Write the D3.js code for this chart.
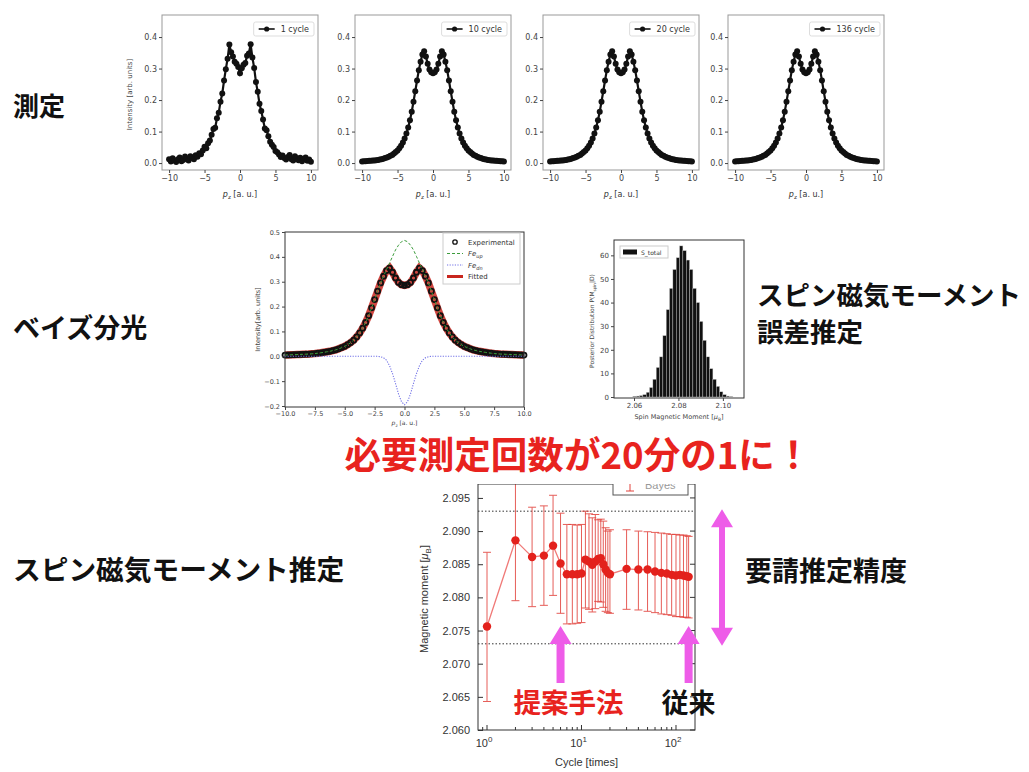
<!DOCTYPE html>
<html>
<head>
<meta charset="utf-8">
<script src="https://cdn.jsdelivr.net/npm/d3@7"></script>
<style>
body{margin:0;background:#fff;}
svg{display:block;}
</style>
</head>
<body>
<svg id="fig" width="1029" height="772"></svg>
<script>
// ---- values ----
const profileLabels = ["1 cycle", "10 cycle", "20 cycle", "136 cycle"];
const pzGrid = d3.range(-10, 10.001, 0.25);   // p_z sample grid [a.u.]

const intensity1Cycle = [
  0.012,0.005,0.015,0.008,0.003,0.012,0.018,0.006,0.010,0.021,
  0.014,0.008,0.022,0.017,0.012,0.025,0.020,0.031,0.028,0.040,
  0.052,0.047,0.063,0.072,0.090,0.108,0.112,0.142,0.160,0.195,
  0.221,0.262,0.298,0.331,0.376,0.352,0.338,0.322,0.315,0.305,
  0.285,
  0.301,0.312,0.318,0.341,0.348,0.377,0.335,0.302,0.257,0.226,
  0.188,0.165,0.138,0.110,0.104,0.085,0.068,0.058,0.051,0.038,
  0.034,0.027,0.019,0.024,0.016,0.011,0.019,0.026,0.012,0.008,
  0.022,0.015,0.009,0.017,0.006,0.013,0.018,0.007,0.011,0.004
];
const intensityAveraged = [
  0.005,0.0055,0.006,0.0065,0.007,0.0075,0.008,0.0085,0.009,0.010,
  0.011,0.0125,0.014,0.016,0.018,0.020,0.023,0.026,0.030,0.035,
  0.040,0.047,0.055,0.065,0.078,0.094,0.113,0.136,0.163,0.195,
  0.228,0.262,0.295,0.322,0.345,0.355,0.338,0.315,0.297,0.288,
  0.285,
  0.288,0.297,0.315,0.338,0.355,0.345,0.322,0.295,0.262,0.228,
  0.195,0.163,0.136,0.113,0.094,0.078,0.065,0.055,0.047,0.040,
  0.035,0.030,0.026,0.023,0.020,0.018,0.016,0.014,0.0125,0.011,
  0.010,0.009,0.0085,0.008,0.0075,0.007,0.0065,0.006,0.0055,0.005
];
const feUp = [
  0.005,0.0055,0.006,0.0065,0.007,0.0075,0.008,0.0085,0.009,0.010,
  0.011,0.0125,0.014,0.016,0.018,0.020,0.023,0.026,0.030,0.035,
  0.040,0.047,0.055,0.065,0.078,0.094,0.113,0.136,0.163,0.195,
  0.228,0.262,0.295,0.322,0.350,0.375,0.402,0.428,0.447,0.461,
  0.466,
  0.461,0.447,0.428,0.402,0.375,0.350,0.322,0.295,0.262,0.228,
  0.195,0.163,0.136,0.113,0.094,0.078,0.065,0.055,0.047,0.040,
  0.035,0.030,0.026,0.023,0.020,0.018,0.016,0.014,0.0125,0.011,
  0.010,0.009,0.0085,0.008,0.0075,0.007,0.0065,0.006,0.0055,0.005
];
const feDn = [
  0,0,0,0,0,0,0,0,0,0,
  0,0,0,0,0,0,0,0,0,0,
  0,0,0,0,0,0,0,0,0,0,
  0,0,
  -0.002,-0.006,-0.016,-0.038,-0.070,-0.110,-0.152,-0.183,
  -0.195,
  -0.183,-0.152,-0.110,-0.070,-0.038,-0.016,-0.006,-0.002,
  0,0,
  0,0,0,0,0,0,0,0,0,0,
  0,0,0,0,0,0,0,0,0,0,
  0,0,0,0,0,0,0,0,0,0
];

const histStart = 2.0595;
const histWidth = 0.0015;
const histCounts = [0.3,0.4,0.6,1.0,2.0,4.0,7.5,12.5,17,26,37,46,54,59,64,62,58,54,46,40,32,24,17,12,7.5,4.5,2.2,1.0,0.4,0.2];

const cycles = [1,2,3,4,5,6,7,8,9,10,11,12,13,14,15,16,17,18,19,20,30,40,50,60,70,80,90,100,110,120,130,136];
const moment = [2.0756,2.0886,2.0861,2.0863,2.0878,2.0851,2.0835,2.0835,2.0835,2.0836,2.0857,2.0854,2.0849,2.0854,2.0858,2.0859,2.0850,2.0842,2.0837,2.0835,2.0843,2.0842,2.0842,2.0839,2.0837,2.0836,2.0834,2.0833,2.0834,2.0833,2.0832,2.0831];
const momentLow = [2.0643,2.0795,2.0786,2.0788,2.0803,2.0776,2.0760,2.0760,2.0761,2.0762,2.0784,2.0782,2.0778,2.0783,2.0794,2.0793,2.0785,2.0779,2.0777,2.0776,2.0782,2.0781,2.0779,2.0777,2.0775,2.0774,2.0773,2.0771,2.0771,2.0770,2.0770,2.0769];
const momentHigh = [2.0868,2.0977,2.0936,2.0938,2.0954,2.0927,2.0910,2.0910,2.0909,2.0910,2.0930,2.0926,2.0920,2.0925,2.0917,2.0918,2.0915,2.0905,2.0900,2.0902,2.0902,2.0900,2.0899,2.0898,2.0897,2.0896,2.0895,2.0895,2.0894,2.0894,2.0893,2.0892];
const requiredBand = [2.073, 2.093];
const proposedCycle = 6;
const conventionalCycle = 136;

class BayesFigure{
    constructor(){
        this.svg = d3.select("svg#fig");
        this.mplFont = "'DejaVu Sans', sans-serif";
        this.matFont = "'Liberation Sans', Arial, sans-serif";
        this.jpFont = "'Noto Sans CJK JP', sans-serif";
        this.red = "#e8231e";
        this.magenta = "#ee5ce8";
    }

    init = () => {
        const lefts = [162, 355, 543, 728];
        profileLabels.forEach((label, i) => {
            let values = i == 0 ? intensity1Cycle : intensityAveraged;
            this.drawProfilePanel({left: lefts[i], top: 15, width: 156, height: 155}, values, label, i == 0);
        });
        this.drawBayesPanel();
        this.drawHistogram();
        this.drawMomentChart();
        this.drawTexts();
    }

    styleAxis = (g, size, color, font) => {
        g.attr("font-size", size).attr("font-family", font || this.mplFont);
        g.select(".domain").remove();
        g.selectAll(".tick line").attr("stroke", color);
        g.selectAll(".tick text").attr("fill", color);
    }

    // "p_z [a. u.]" style label
    pzLabel = (g, cx, cy, size) => {
        let t = g.append("text").attr("x", cx).attr("y", cy).attr("text-anchor", "middle")
            .attr("font-family", this.mplFont).attr("font-size", size).attr("fill", "#333");
        t.append("tspan").attr("font-style", "italic").text("p");
        t.append("tspan").attr("font-size", size * 0.7).attr("dy", size * 0.25).text("z");
        t.append("tspan").attr("dy", -size * 0.25).text(" [a. u.]");
    }

    drawProfilePanel = (box, values, label, withYLabel) => {
        const x = d3.scaleLinear().domain([-11, 11]).range([box.left, box.left + box.width]);
        const y = d3.scaleLinear().domain([-0.022, 0.47]).range([box.top + box.height, box.top]);
        const g = this.svg.append("g");
        const pts = pzGrid.map((p, i) => [p, values[i]]);

        g.append("path").datum(pts)
            .attr("d", d3.line().x(d => x(d[0])).y(d => y(d[1])))
            .attr("fill", "none").attr("stroke", "#111").attr("stroke-width", 2.2);
        g.selectAll("circle.pt").data(pts).join("circle")
            .attr("class", "pt")
            .attr("cx", d => x(d[0])).attr("cy", d => y(d[1])).attr("r", 3)
            .attr("fill", "#111");

        g.append("rect").attr("x", box.left).attr("y", box.top).attr("width", box.width).attr("height", box.height)
            .attr("fill", "none").attr("stroke", "#999").attr("stroke-width", 1);

        let ax = g.append("g").attr("transform", `translate(0,${box.top + box.height})`)
            .call(d3.axisBottom(x).tickValues([-10, -5, 0, 5, 10]).tickSize(3).tickPadding(2).tickFormat(d => d < 0 ? `\u2212${-d}` : d));
        this.styleAxis(ax, 8, "#444");
        let ay = g.append("g").attr("transform", `translate(${box.left},0)`)
            .call(d3.axisLeft(y).tickValues([0, 0.1, 0.2, 0.3, 0.4]).tickSize(3).tickPadding(2).tickFormat(d3.format(".1f")));
        this.styleAxis(ay, 8, "#444");

        this.pzLabel(g, box.left + box.width / 2, box.top + box.height + 27, 8);
        if(withYLabel){
            g.append("text").attr("transform", `translate(${box.left - 30},${box.top + box.height / 2 + 2}) rotate(-90)`)
                .attr("text-anchor", "middle").attr("font-family", this.mplFont).attr("font-size", 7).attr("fill", "#444")
                .text("Intensity [arb. units]");
        }

        // legend
        let lg = g.append("g");
        let txt = lg.append("text").attr("font-family", this.mplFont).attr("font-size", 8).attr("fill", "#333").text(label);
        let tw = txt.node().getComputedTextLength();
        let right = box.left + box.width - 4;
        let w = tw + 32, lx = right - w, ly = box.top + 7;
        lg.insert("rect", "text").attr("x", lx).attr("y", ly).attr("width", w).attr("height", 14)
            .attr("fill", "#fff").attr("stroke", "#ddd").attr("rx", 2);
        lg.append("line").attr("x1", lx + 5).attr("x2", lx + 21).attr("y1", ly + 7).attr("y2", ly + 7)
            .attr("stroke", "#111").attr("stroke-width", 1.6);
        lg.append("circle").attr("cx", lx + 13).attr("cy", ly + 7).attr("r", 2.6).attr("fill", "#111");
        txt.attr("x", lx + 27).attr("y", ly + 10);
    }

    drawBayesPanel = () => {
        const box = {left: 285, top: 232, width: 239, height: 175};
        const x = d3.scaleLinear().domain([-10, 10]).range([box.left, box.left + box.width]);
        const y = d3.scaleLinear().domain([-0.2, 0.5]).range([box.top + box.height - 1, box.top]);
        const g = this.svg.append("g");
        const line = d3.line().x(d => x(d[0])).y(d => y(d[1]));
        const exp = pzGrid.map((p, i) => [p, intensityAveraged[i]]);
        const up = pzGrid.map((p, i) => [p, feUp[i]]);
        const dn = pzGrid.map((p, i) => [p, feDn[i]]);

        g.append("path").datum(exp).attr("d", line).attr("fill", "none")
            .attr("stroke", "#c8261e").attr("stroke-width", 7.5).attr("opacity", 0.85);
        g.selectAll("circle.exp").data(exp).join("circle").attr("class", "exp")
            .attr("cx", d => x(d[0])).attr("cy", d => y(d[1])).attr("r", 2.5)
            .attr("fill", "none").attr("stroke", "#111").attr("stroke-width", 1.8);
        g.append("path").datum(up).attr("d", line).attr("fill", "none")
            .attr("stroke", "#3c9c3c").attr("stroke-width", 1).attr("stroke-dasharray", "3,2");
        g.append("path").datum(dn).attr("d", line).attr("fill", "none")
            .attr("stroke", "#7070e6").attr("stroke-width", 1.1).attr("stroke-dasharray", "1.2,1.4");

        g.append("rect").attr("x", box.left).attr("y", box.top).attr("width", box.width).attr("height", box.height)
            .attr("fill", "none").attr("stroke", "#333").attr("stroke-width", 1);
        let ax = g.append("g").attr("transform", `translate(0,${box.top + box.height})`)
            .call(d3.axisBottom(x).tickValues(d3.range(-10, 10.01, 2.5)).tickSize(3).tickPadding(1)
                .tickFormat(d => d < 0 ? `\u2212${d3.format(".1f")(-d)}` : d3.format(".1f")(d)));
        this.styleAxis(ax, 6.5, "#444");
        let ay = g.append("g").attr("transform", `translate(${box.left},0)`)
            .call(d3.axisLeft(y).tickValues(d3.range(-0.2, 0.51, 0.1)).tickSize(3).tickPadding(2)
                .tickFormat(d => d < -0.001 ? `\u2212${d3.format(".1f")(-d)}` : d3.format(".1f")(Math.abs(d))));
        this.styleAxis(ay, 6.5, "#444");

        this.pzLabel(g, box.left + box.width / 2, box.top + box.height + 18, 6);
        g.append("text").attr("transform", `translate(${box.left - 25},${box.top + box.height / 2}) rotate(-90)`)
            .attr("text-anchor", "middle").attr("font-family", this.mplFont).attr("font-size", 6.5).attr("fill", "#444")
            .text("Intensity[arb. units]");

        // legend
        const lx = 443, ly = 233;
        let lg = g.append("g").attr("font-family", this.mplFont).attr("font-size", 7).attr("fill", "#333");
        lg.append("rect").attr("x", lx).attr("y", ly).attr("width", 77).attr("height", 51)
            .attr("fill", "#fff").attr("stroke", "#ccc");
        const rows = [
            {key: "exp", label: "Experimental"},
            {key: "up", label: "Fe", sub: "up"},
            {key: "dn", label: "Fe", sub: "dn"},
            {key: "fit", label: "Fitted"}
        ];
        rows.forEach((r, i) => {
            let cy = ly + 9 + i * 11.5;
            if(r.key == "exp"){
                lg.append("circle").attr("cx", lx + 12).attr("cy", cy).attr("r", 2.2)
                    .attr("fill", "none").attr("stroke", "#111").attr("stroke-width", 1.3);
            } else if(r.key == "up"){
                lg.append("line").attr("x1", lx + 4).attr("x2", lx + 20).attr("y1", cy).attr("y2", cy)
                    .attr("stroke", "#3c9c3c").attr("stroke-dasharray", "3,2");
            } else if(r.key == "dn"){
                lg.append("line").attr("x1", lx + 4).attr("x2", lx + 20).attr("y1", cy).attr("y2", cy)
                    .attr("stroke", "#7070e6").attr("stroke-width", 1.1).attr("stroke-dasharray", "1.2,1.4");
            } else {
                lg.append("line").attr("x1", lx + 4).attr("x2", lx + 20).attr("y1", cy).attr("y2", cy)
                    .attr("stroke", "#c8261e").attr("stroke-width", 3);
            }
            let t = lg.append("text").attr("x", lx + 25).attr("y", cy + 2.5);
            if(r.sub){
                t.append("tspan").attr("font-style", "italic").text(r.label);
                t.append("tspan").attr("font-size", 5).attr("dy", 2).attr("font-style", "italic").text(r.sub);
            } else t.text(r.label);
        });
    }

    drawHistogram = () => {
        const box = {left: 614, top: 240, width: 130, height: 158};
        const x = d3.scaleLinear().domain([2.051, 2.1095]).range([box.left, box.left + box.width]);
        const y = d3.scaleLinear().domain([0, 66.5]).range([box.top + box.height - 1, box.top]);
        const g = this.svg.append("g");
        const bins = histCounts.map((c, i) => ({x0: histStart + i * histWidth, x1: histStart + (i + 1) * histWidth, count: c}));

        g.selectAll("rect.bar").data(bins).join("rect").attr("class", "bar")
            .attr("x", d => x(d.x0)).attr("width", d => x(d.x1) - x(d.x0))
            .attr("y", d => y(d.count)).attr("height", d => y(0) - y(d.count))
            .attr("fill", "#111").attr("stroke", "#ccc").attr("stroke-width", 0.4);

        g.append("rect").attr("x", box.left).attr("y", box.top).attr("width", box.width).attr("height", box.height)
            .attr("fill", "none").attr("stroke", "#333");
        let ax = g.append("g").attr("transform", `translate(0,${box.top + box.height})`)
            .call(d3.axisBottom(x).tickValues([2.06, 2.08, 2.10]).tickSize(3).tickPadding(2).tickFormat(d3.format(".2f")));
        this.styleAxis(ax, 7, "#444");
        let ay = g.append("g").attr("transform", `translate(${box.left},0)`)
            .call(d3.axisLeft(y).tickValues(d3.range(0, 61, 10)).tickSize(3).tickPadding(2));
        this.styleAxis(ay, 7, "#444");

        let xl = g.append("text").attr("x", box.left + box.width / 2).attr("y", box.top + box.height + 21)
            .attr("text-anchor", "middle").attr("font-family", this.mplFont).attr("font-size", 6.5).attr("fill", "#444");
        xl.append("tspan").text("Spin Magnetic Moment [");
        xl.append("tspan").attr("font-style", "italic").text("\u03bc");
        xl.append("tspan").attr("font-size", 4.5).attr("dy", 1.5).text("B");
        xl.append("tspan").attr("dy", -1.5).text("]");

        let yl = g.append("text").attr("transform", `translate(${box.left - 20},${box.top + box.height / 2 + 2}) rotate(-90)`)
            .attr("text-anchor", "middle").attr("font-family", this.mplFont).attr("font-size", 6).attr("fill", "#444");
        yl.append("tspan").text("Posterior Distribution P(M");
        yl.append("tspan").attr("font-size", 4).attr("dy", 1.5).text("spin");
        yl.append("tspan").attr("dy", -1.5).text("|D)");

        let lg = g.append("g");
        lg.append("rect").attr("x", 620).attr("y", 246).attr("width", 48).attr("height", 12)
            .attr("fill", "#fff").attr("stroke", "#ccc");
        lg.append("rect").attr("x", 623).attr("y", 249.5).attr("width", 14).attr("height", 5).attr("fill", "#111");
        lg.append("text").attr("x", 641).attr("y", 254.5).attr("font-family", this.mplFont).attr("font-size", 6)
            .attr("fill", "#333").text("S_total");
    }

    drawMomentChart = () => {
        const box = {left: 478, top: 484, width: 217, height: 246};
        const x = d3.scaleLog().domain([0.803, 158.9]).range([box.left, box.left + box.width]);
        const y = d3.scaleLinear().domain([2.060, 2.0971]).range([box.top + box.height, box.top]);
        const g = this.svg.append("g");
        const rows = cycles.map((c, i) => ({c: c, m: moment[i], lo: momentLow[i], hi: momentHigh[i]}));

        g.append("clipPath").attr("id", "clip-moment").append("rect")
            .attr("x", box.left).attr("y", box.top).attr("width", box.width).attr("height", box.height);
        const plot = g.append("g").attr("clip-path", "url(#clip-moment)");

        // required precision band
        requiredBand.forEach(v => {
            plot.append("line").attr("x1", box.left).attr("x2", box.left + box.width)
                .attr("y1", y(v)).attr("y2", y(v))
                .attr("stroke", "#333").attr("stroke-width", 1).attr("stroke-dasharray", "1.5,2");
        });

        plot.append("path").datum(rows)
            .attr("d", d3.line().x(d => x(d.c)).y(d => y(d.m)))
            .attr("fill", "none").attr("stroke", "#f07a78").attr("stroke-width", 1.3);
        let eb = plot.selectAll("g.eb").data(rows).join("g").attr("class", "eb")
            .attr("stroke", "#e2423c").attr("stroke-width", 1).attr("opacity", 0.85);
        eb.append("line").attr("x1", d => x(d.c)).attr("x2", d => x(d.c)).attr("y1", d => y(d.lo)).attr("y2", d => y(d.hi));
        eb.append("line").attr("x1", d => x(d.c) - 4).attr("x2", d => x(d.c) + 4).attr("y1", d => y(d.lo)).attr("y2", d => y(d.lo));
        eb.append("line").attr("x1", d => x(d.c) - 4).attr("x2", d => x(d.c) + 4).attr("y1", d => y(d.hi)).attr("y2", d => y(d.hi));
        plot.selectAll("circle.m").data(rows).join("circle").attr("class", "m")
            .attr("cx", d => x(d.c)).attr("cy", d => y(d.m)).attr("r", 4.2).attr("fill", "#e3211c");

        // frame and ticks (inward)
        g.append("rect").attr("x", box.left).attr("y", box.top).attr("width", box.width).attr("height", box.height)
            .attr("fill", "none").attr("stroke", "#333").attr("stroke-width", 1);
        const minor = x.ticks().filter(t => ![1, 10, 100].includes(t));
        g.selectAll("line.xminor").data(minor).join("line").attr("class", "xminor")
            .attr("x1", d => x(d)).attr("x2", d => x(d)).attr("y1", box.top + box.height).attr("y2", box.top + box.height - 3)
            .attr("stroke", "#333");
        g.selectAll("line.xmajor").data([1, 10, 100]).join("line").attr("class", "xmajor")
            .attr("x1", d => x(d)).attr("x2", d => x(d)).attr("y1", box.top + box.height).attr("y2", box.top + box.height - 5)
            .attr("stroke", "#333");
        let xt = g.selectAll("text.xt").data([1, 10, 100]).join("text").attr("class", "xt")
            .attr("x", d => x(d) - 3).attr("y", box.top + box.height + 17).attr("text-anchor", "middle")
            .attr("font-family", this.matFont).attr("font-size", 11).attr("fill", "#333");
        xt.append("tspan").text("10");
        xt.append("tspan").attr("font-size", 8).attr("dy", -5).text(d => Math.round(Math.log10(d)));

        const yTicks = d3.range(2.060, 2.0951, 0.005);
        let ay = g.append("g").attr("transform", `translate(${box.left},0)`)
            .call(d3.axisLeft(y).tickValues(yTicks).tickSizeInner(-5).tickSizeOuter(0).tickPadding(8).tickFormat(d3.format(".3f")));
        this.styleAxis(ay, 11, "#333", this.matFont);
        g.selectAll("line.yr").data(yTicks).join("line").attr("class", "yr")
            .attr("x1", box.left + box.width).attr("x2", box.left + box.width - 5)
            .attr("y1", d => y(d)).attr("y2", d => y(d)).attr("stroke", "#333");

        g.append("text").attr("x", box.left + box.width / 2).attr("y", box.top + box.height + 36)
            .attr("text-anchor", "middle").attr("font-family", this.matFont).attr("font-size", 11).attr("fill", "#333")
            .text("Cycle [times]");
        let yl = g.append("text").attr("transform", `translate(${box.left - 50},${box.top + box.height / 2 - 8}) rotate(-90)`)
            .attr("text-anchor", "middle").attr("font-family", this.matFont).attr("font-size", 11).attr("fill", "#333");
        yl.append("tspan").text("Magnetic moment [");
        yl.append("tspan").attr("font-style", "italic").text("\u03bc");
        yl.append("tspan").attr("font-size", 8).attr("dy", 3).text("B");
        yl.append("tspan").attr("dy", -3).text("]");

        // legend, mostly hidden behind the banner
        let lg = g.append("g");
        lg.append("rect").attr("x", 613).attr("y", 470).attr("width", 75).attr("height", 25)
            .attr("fill", "#fff").attr("stroke", "#555");
        lg.append("line").attr("x1", 630).attr("x2", 630).attr("y1", 474).attr("y2", 491).attr("stroke", "#e2423c");
        lg.append("line").attr("x1", 626).attr("x2", 634).attr("y1", 491).attr("y2", 491).attr("stroke", "#e2423c");
        lg.append("text").attr("x", 645).attr("y", 489).attr("font-family", this.matFont).attr("font-size", 11)
            .attr("fill", "#999").text("Bayes");

        // arrows
        this.upArrow(x(proposedCycle), y(2.0757), y(2.0671));
        this.upArrow(x(conventionalCycle), y(2.0757), y(2.0671));
        this.doubleArrow(722, y(requiredBand[1]) - 2, y(requiredBand[0]) + 2);

        this.svg.append("text").attr("x", x(proposedCycle) + 8).attr("y", 713).attr("text-anchor", "middle")
            .attr("font-family", this.jpFont).attr("font-weight", 700).attr("font-size", 27.5).attr("fill", this.red)
            .text("提案手法");
        this.svg.append("text").attr("x", x(conventionalCycle)).attr("y", 713).attr("text-anchor", "middle")
            .attr("font-family", this.jpFont).attr("font-weight", 700).attr("font-size", 27).attr("fill", "#111")
            .text("従来");
    }

    upArrow = (cx, tip, bottom) => {
        const hw = 11, hh = 18, sw = 4;
        const p = [[cx, tip], [cx + hw, tip + hh], [cx + sw, tip + hh], [cx + sw, bottom],
                   [cx - sw, bottom], [cx - sw, tip + hh], [cx - hw, tip + hh]];
        this.svg.append("path").attr("d", d3.line()(p) + "Z").attr("fill", this.magenta);
    }

    doubleArrow = (cx, top, bottom) => {
        const hw = 11, hh = 18, sw = 3;
        const p = [[cx, top], [cx + hw, top + hh], [cx + sw, top + hh], [cx + sw, bottom - hh], [cx + hw, bottom - hh],
                   [cx, bottom], [cx - hw, bottom - hh], [cx - sw, bottom - hh], [cx - sw, top + hh], [cx - hw, top + hh]];
        this.svg.append("path").attr("d", d3.line()(p) + "Z").attr("fill", this.magenta);
    }

    drawTexts = () => {
        const jp = (x, y, size, txt, color, anchor) => this.svg.append("text")
            .attr("x", x).attr("y", y).attr("text-anchor", anchor || "start")
            .attr("font-family", this.jpFont).attr("font-weight", 700).attr("font-size", size)
            .attr("fill", color || "#111").text(txt);

        jp(13, 116, 26, "測定");
        jp(13, 338, 27, "ベイズ分光");
        jp(13, 580, 27.7, "スピン磁気モーメント推定");

        // two-line caption next to the histogram
        jp(757, 305, 26.5, "スピン磁気モーメント");
        jp(757, 342, 26.5, "誤差推定");

        jp(745, 581, 27, "要請推定精度");

        // banner over the chart top
        this.svg.append("rect").attr("x", 340).attr("y", 431).attr("width", 480).attr("height", 53).attr("fill", "#fff");
        jp(578, 469, 37, "必要測定回数が20分の1に！", this.red, "middle")
            .attr("textLength", 467).attr("lengthAdjust", "spacingAndGlyphs");
    }
}

new BayesFigure().init();
</script>
</body>
</html>
